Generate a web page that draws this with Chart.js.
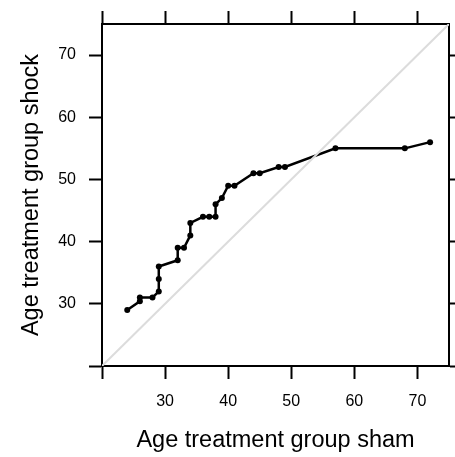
<!DOCTYPE html>
<html>
<head>
<meta charset="utf-8">
<script src="https://cdn.jsdelivr.net/npm/chart.js@4.4.1/dist/chart.umd.min.js"></script>
<style>
  html, body { margin: 0; padding: 0; background: #fff; }
  #wrap { width: 455px; height: 457px; position: relative; }
</style>
</head>
<body>
<div id="wrap"><canvas id="qq"></canvas></div>
<script>
/* Q-Q plot: age quantiles, sham group (x) vs shock group (y) */
const shamAge  = [24, 26, 26, 28, 29, 29, 29, 32, 32, 33, 34, 34, 36, 37, 38, 38, 39, 40, 41, 44, 45, 48, 49, 57, 68, 72];
const shockAge = [29, 30.4, 31, 31, 32, 34, 36, 37, 39, 39, 41, 43, 44, 44, 44, 46, 47, 49, 49, 51, 51, 52, 52, 55, 55, 56];
const axisMin = 20;
const axisMax = 75;
const tickValues = [20, 30, 40, 50, 60, 70];
const hiddenLabels = [20];

const FONT = "'Liberation Sans', Arial, Helvetica, sans-serif";

const qqPoints = shamAge.map((x, i) => ({ x, y: shockAge[i] }));
const refLine  = [{ x: axisMin, y: axisMin }, { x: axisMax, y: axisMax }];

function fixedTicks(scale) {
  scale.ticks = tickValues.map(v => ({ value: v }));
}

function axis(position, opts) {
  return {
    type: 'linear',
    position,
    min: axisMin,
    max: axisMax,
    afterBuildTicks: fixedTicks,
    afterFit: s => {
      if (opts.width  != null) s.width  = opts.width;
      if (opts.height != null) s.height = opts.height;
    },
    border: { display: true, color: '#000', width: 2 },
    grid: {
      drawOnChartArea: false,
      drawTicks: true,
      tickLength: 13,
      tickWidth: 2,
      tickColor: '#000',
    },
    ticks: {
      display: opts.labels,
      color: '#000',
      padding: opts.pad || 0,
      maxRotation: 0,
      autoSkip: false,
      font: { family: FONT, size: 16 },
      callback: v => hiddenLabels.includes(v) ? '' : String(v),
    },
    title: opts.title ? {
      display: true,
      text: opts.title,
      color: '#000',
      font: { family: FONT, size: 23.5 },
      padding: opts.titlePad,
    } : { display: false },
  };
}

new Chart(document.getElementById('qq'), {
  type: 'line',
  data: {
    datasets: [
      {
        label: 'reference',
        data: refLine,
        borderColor: '#dcdcdc',
        borderWidth: 2,
        pointRadius: 0,
        xAxisID: 'x',
        yAxisID: 'y',
      },
      {
        label: 'quantiles',
        data: qqPoints,
        borderColor: '#000',
        backgroundColor: '#000',
        borderWidth: 2.5,
        pointRadius: 3,
        pointBorderWidth: 0,
        tension: 0,
        xAxisID: 'x',
        yAxisID: 'y',
      },
    ],
  },
  options: {
    responsive: true,
    maintainAspectRatio: false,
    animation: false,
    layout: { padding: 0 },
    plugins: {
      legend: { display: false },
      tooltip: { enabled: false },
    },
    scales: {
      x:  axis('bottom', { labels: true,  height: 91, pad: 13, title: 'Age treatment group sham', titlePad: { bottom: 2 } }),
      x2: axis('top',    { labels: false, height: 24 }),
      y:  axis('left',   { labels: true,  width: 102, pad: 13, title: 'Age treatment group shock', titlePad: { top: 17 } }),
      y2: axis('right',  { labels: false, width: 6 }),
    },
  },
});
</script>
</body>
</html>
